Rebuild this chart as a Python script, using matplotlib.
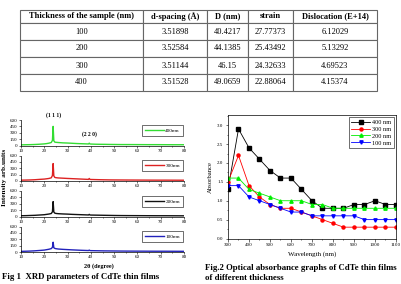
import matplotlib
matplotlib.use("Agg")
import matplotlib.pyplot as plt

plt.rcParams['font.family'] = ['Liberation Serif', 'DejaVu Serif']

# ---- table data ----
col_labels = ["Thickness of the sample (nm)", "d-spacing (\u00c5)", "D (nm)", "strain", "Dislocation (E+14)"]
thickness = ["100", "200", "300", "400"]
d_spacing = ["3.51898", "3.52584", "3.51144", "3.51528"]
crystal_D = ["40.4217", "44.1385", "46.15", "49.0659"]
strain = ["27.77373", "25.43492", "24.32633", "22.88064"]
dislocation = ["6.12029", "5.13292", "4.69523", "4.15374"]

# ---- XRD data (2theta in degree, intensity in arb. units) ----
two_theta = [10, 12, 14, 16, 18, 20, 21, 22, 23, 23.5, 23.8, 24.1, 24.5, 25, 26, 28, 30, 32, 34,
             36, 38, 39, 39.3, 39.6, 40, 42, 44, 46, 48, 50, 53, 56, 60, 64, 68, 72, 76, 80]
xrd_400 = [15, 18, 20, 24, 30, 38, 45, 55, 70, 120, 450, 110, 80, 75, 70, 62, 58, 52, 46,
           42, 38, 36, 55, 36, 34, 30, 28, 27, 25, 24, 22, 22, 21, 20, 20, 19, 18, 18]
xrd_300 = [20, 22, 25, 30, 38, 45, 52, 60, 75, 130, 410, 120, 85, 78, 72, 66, 60, 55, 50,
           45, 40, 38, 60, 38, 36, 33, 30, 28, 26, 25, 24, 23, 22, 21, 20, 20, 19, 18]
xrd_200 = [18, 20, 24, 28, 35, 42, 50, 58, 70, 110, 350, 105, 80, 72, 66, 60, 56, 50, 46,
           42, 38, 36, 50, 36, 34, 32, 30, 28, 26, 24, 22, 21, 20, 19, 18, 18, 17, 16]
xrd_100 = [15, 18, 22, 28, 36, 45, 55, 65, 80, 110, 230, 100, 85, 78, 70, 62, 56, 50, 45,
           40, 36, 34, 45, 34, 32, 30, 28, 26, 25, 24, 22, 21, 20, 19, 18, 18, 17, 16]
xrd_labels = ["400nm", "300nm", "200nm", "100nm"]
xrd_colors = ["#33dd33", "#dd2222", "#111111", "#2222bb"]

# ---- absorbance data ----
wavelength = [300, 350, 400, 450, 500, 550, 600, 650, 700, 750, 800, 850, 900, 950, 1000, 1050, 1100]
abs_400 = [1.3, 2.9, 2.4, 2.1, 1.8, 1.6, 1.6, 1.3, 1.0, 0.8, 0.8, 0.8, 0.9, 0.9, 1.0, 0.9, 0.9]
abs_300 = [1.5, 2.2, 1.4, 1.1, 0.9, 0.8, 0.8, 0.7, 0.6, 0.5, 0.4, 0.3, 0.3, 0.3, 0.3, 0.3, 0.3]
abs_200 = [1.6, 1.6, 1.3, 1.2, 1.1, 1.0, 1.0, 1.0, 0.9, 0.9, 0.8, 0.8, 0.8, 0.8, 0.8, 0.8, 0.8]
abs_100 = [1.4, 1.4, 1.1, 1.0, 0.9, 0.8, 0.7, 0.7, 0.6, 0.6, 0.6, 0.6, 0.6, 0.5, 0.5, 0.5, 0.5]

W, H = 402, 284
fig = plt.figure(figsize=(W / 100, H / 100), dpi=100)


def px_axes(x0, y0, x1, y1):
    # axes from pixel box (top-left origin)
    return fig.add_axes([x0 / W, 1 - y1 / H, (x1 - x0) / W, (y1 - y0) / H])


# ---- table ----
tax = px_axes(20, 10, 377, 91)
tax.axis("off")
rows = list(zip(thickness, d_spacing, crystal_D, strain, dislocation))
col_w = [123, 64, 41, 45, 84]
tbl = tax.table(cellText=rows, colLabels=col_labels, cellLoc="center",
                colWidths=[w / sum(col_w) for w in col_w], bbox=[0, 0, 1, 1])
tbl.auto_set_font_size(False)
for (r, c), cell in tbl.get_celld().items():
    cell.set_edgecolor("#666666")
    cell.set_linewidth(0.8)
    cell.set_height(13 if r == 0 else 17)
    txt = cell.get_text()
    txt.set_fontsize(6)
    if r == 0:
        txt.set_fontweight("bold")

# ---- XRD stacked panels ----
xrd_sets = [xrd_400, xrd_300, xrd_200, xrd_100]
tops = [120, 155.5, 191, 226.5]
for i, (vals, lab, col, top) in enumerate(zip(xrd_sets, xrd_labels, xrd_colors, tops)):
    ax = px_axes(21, top, 184, top + 25.5)
    ax.plot(two_theta, vals, color=col, lw=1.0, label=lab)
    ax.set_xlim(10, 80)
    ax.set_ylim(0, 600)
    ax.set_yticks([0, 150, 300, 450, 600])
    ax.set_xticks(range(10, 81, 10))
    ax.set_xticks(range(15, 80, 10), minor=True)
    ax.spines["top"].set_visible(False)
    ax.spines["right"].set_visible(False)
    for s in ["left", "bottom"]:
        ax.spines[s].set_linewidth(0.5)
    ax.tick_params(labelsize=3.6, length=1.5, width=0.4, pad=1)
    ax.tick_params(which="minor", length=1, width=0.4)
    ax.patch.set_alpha(0)
    leg = ax.legend(loc="upper right", bbox_to_anchor=(1.01, 0.92), fontsize=3.8,
                    frameon=True, fancybox=False, handlelength=3.5, borderpad=0.6,
                    handletextpad=0.3)
    leg.get_frame().set_edgecolor("black")
    leg.get_frame().set_linewidth(0.5)
    if i == 0:
        ax.text(24, 640, "(1 1 1)", fontsize=4, fontweight="bold", ha="center",
                va="bottom", clip_on=False)
        ax.text(39.5, 190, "(2 2 0)", fontsize=4, fontweight="bold", ha="center",
                va="bottom")

fig.text(5 / W, 1 - 177 / H, "Intensity arb.units", rotation=90, fontsize=5.2,
         fontweight="bold", ha="center", va="center")
fig.text(99 / W, 1 - 266 / H, "2\u03b8 (degree)", fontsize=4.5, fontweight="bold",
         ha="center", va="center")
fig.text(2 / W, 1 - 277 / H, "Fig 1  XRD parameters of CdTe thin films", fontsize=6.3,
         fontweight="bold", ha="left", va="center")

# ---- absorbance plot ----
bx = px_axes(228, 115, 396, 238.5)
bx.plot(wavelength, abs_400, color="black", marker="s", ms=2.2, lw=0.6, label="400 nm")
bx.plot(wavelength, abs_300, color="red", marker="o", ms=2.2, lw=0.6, label="300 nm")
bx.plot(wavelength, abs_200, color="#00ee00", marker="^", ms=2.4, lw=0.6, label="200 nm")
bx.plot(wavelength, abs_100, color="blue", marker="v", ms=2.4, lw=0.6, label="100 nm")
bx.set_xlim(300, 1100)
bx.set_ylim(0, 3.27)
bx.set_xticks(range(300, 1101, 100))
bx.set_xticks(range(350, 1100, 100), minor=True)
bx.set_yticks([0, 0.5, 1.0, 1.5, 2.0, 2.5, 3.0])
bx.set_yticks([0.25, 0.75, 1.25, 1.75, 2.25, 2.75, 3.25], minor=True)
bx.yaxis.set_major_formatter(matplotlib.ticker.FormatStrFormatter("%.1f"))
bx.tick_params(labelsize=3.6, length=1.8, width=0.4, pad=1.5)
bx.tick_params(which="minor", length=1, width=0.4)
for s in bx.spines.values():
    s.set_linewidth(0.5)
bx.set_ylabel("Absorbance", fontsize=4.8, labelpad=3)
bx.set_xlabel("Wavelength (nm)", fontsize=5, labelpad=3)
leg = bx.legend(loc="upper right", fontsize=4.5, frameon=True, fancybox=False,
                handlelength=3, borderpad=0.4, labelspacing=0.25, handletextpad=0.4,
                borderaxespad=0.3)
leg.get_frame().set_edgecolor("black")
leg.get_frame().set_linewidth(0.5)

fig.text(205 / W, 1 - 268 / H, "Fig.2 Optical absorbance graphs of CdTe thin films",
         fontsize=6.3, fontweight="bold", ha="left", va="center")
fig.text(205 / W, 1 - 278 / H, "of different thickness", fontsize=6.3,
         fontweight="bold", ha="left", va="center")

fig.savefig("out.png", dpi=100)
